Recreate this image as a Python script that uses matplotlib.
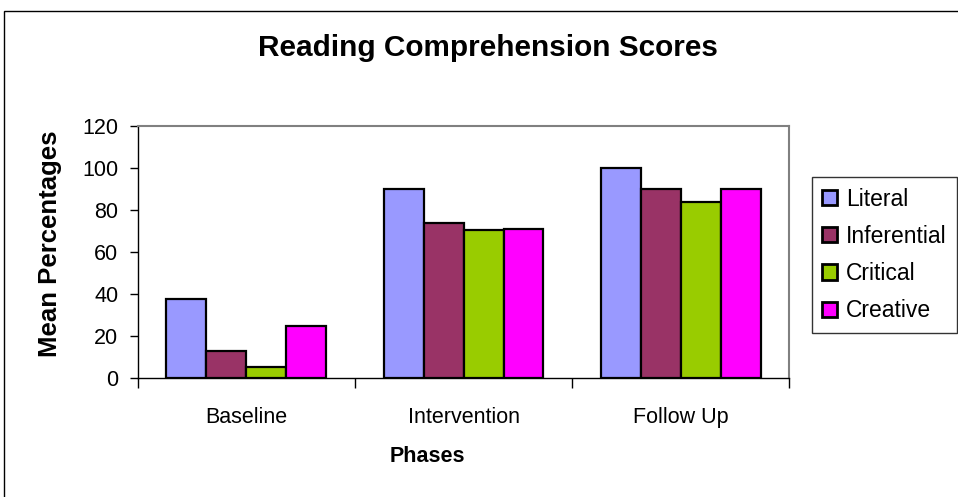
import matplotlib
matplotlib.use("Agg")
import matplotlib.pyplot as plt
import numpy as np
from matplotlib.patches import Rectangle

phases = ["Baseline", "Intervention", "Follow Up"]
series_names = ["Literal", "Inferential", "Critical", "Creative"]
literal = [37.5, 90, 100]
inferential = [13.2, 73.7, 90]
critical = [5.2, 70.7, 83.7]
creative = [25, 71, 90]
colors = ["#9999FF", "#993366", "#99CC00", "#FF00FF"]
yticks = [0, 20, 40, 60, 80, 100, 120]

plt.rcParams['font.family'] = ['Liberation Sans', 'DejaVu Sans']

fig = plt.figure(figsize=(9.58, 4.97), dpi=100)
ax = fig.add_axes([0.1437, 0.2388, 0.824 - 0.1437, 0.747 - 0.2388])

# outer chart border
fig.patches.append(Rectangle((4 / 958, -0.01), 1.0, 1 - 11 / 497 + 0.01,
                             transform=fig.transFigure, fill=False,
                             edgecolor="black", linewidth=1.0))

data = [literal, inferential, critical, creative]
x = np.arange(len(phases))
w = 0.184
for i, (vals, c, name) in enumerate(zip(data, colors, series_names)):
    ax.bar(x + (i - 1.5) * w, vals, width=w, color=c, edgecolor="black",
           linewidth=1.6, label=name, zorder=3)

ax.set_xlim(-0.5, 2.5)
ax.set_ylim(0, 120)
ax.set_yticks(yticks)
ax.set_yticklabels([str(v) for v in yticks], fontsize=15.5)
ax.set_xticks([-0.5, 0.5, 1.5, 2.5])
ax.set_xticklabels([])
ax.set_xticks(x, minor=True)
ax.set_xticklabels(phases, minor=True, fontsize=15.5)
ax.tick_params(axis="x", which="minor", length=0, pad=21)
ax.tick_params(axis="x", which="major", direction="out", length=7, width=1)
ax.tick_params(axis="y", direction="out", length=6, width=1, pad=8)

for s in ["top", "right"]:
    ax.spines[s].set_color("#808080")
    ax.spines[s].set_linewidth(1.5)
for s in ["left", "bottom"]:
    ax.spines[s].set_color("black")
    ax.spines[s].set_linewidth(1.0)

fig.text(50 / 958, 1 - 244 / 497, "Mean Percentages", rotation=90,
         ha="center", va="center", fontsize=18.5, fontweight="bold")
fig.text(427 / 958, 1 - 457 / 497, "Phases",
         ha="center", va="center", fontsize=15.5, fontweight="bold")
fig.text(488 / 958, 1 - 48 / 497, "Reading Comprehension Scores",
         ha="center", va="center", fontsize=21.4, fontweight="bold")

leg = fig.legend(loc="upper left", bbox_to_anchor=(811.5 / 958, 1 - 177.3 / 497),
                 fontsize=16.5, frameon=True, fancybox=False, edgecolor="black",
                 handlelength=0.65, handleheight=0.65, handletextpad=0.42,
                 labelspacing=0.62, borderpad=0.45, borderaxespad=0)
leg.get_frame().set_linewidth(1.0)
for h in leg.legend_handles:
    h.set_linewidth(2.0)

fig.savefig("out.png", dpi=100)
